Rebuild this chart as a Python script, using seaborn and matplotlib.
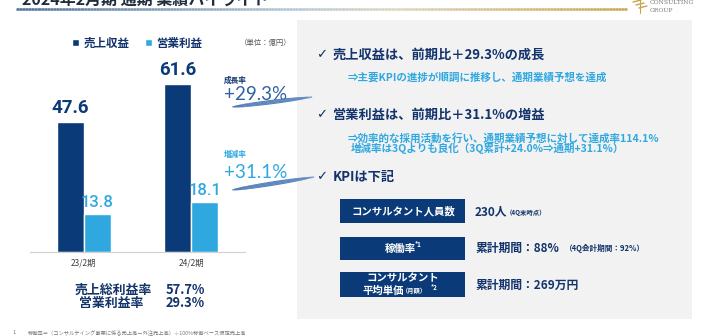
import numpy as np
import pandas as pd
import matplotlib
matplotlib.use("Agg")
import matplotlib.pyplot as plt
import seaborn as sns
from matplotlib.patches import Rectangle, Patch, Polygon
from matplotlib.lines import Line2D
from matplotlib.collections import LineCollection
from matplotlib.colors import LinearSegmentedColormap

# ---------------- data ----------------
periods = ["23/2期", "24/2期"]
series_names = ["売上収益", "営業利益"]
revenue = [47.6, 61.6]
op_profit = [13.8, 18.1]
growth_rev_label = "成長率"
growth_rev = "+29.3%"
growth_op_label = "増減率"
growth_op = "+31.1%"
margin_names = ["売上総利益率", "営業利益率"]
margin_values = ["57.7%", "29.3%"]
unit_text = "（単位：億円）"
title_text = "2024年2月期 通期 業績ハイライト"
bullets = [
    ("✓ ", "売上収益は、前期比＋29.3%の成長"),
    ("✓ ", "営業利益は、前期比＋31.1%の増益"),
    ("✓ ", "KPIは下記"),
]
sub_lines = [
    "⇒主要KPIの進捗が順調に推移し、通期業績予想を達成",
    "⇒効率的な採用活動を行い、通期業績予想に対して達成率114.1%",
    "増減率は3Qよりも良化（3Q累計+24.0%⇒通期+31.1%）",
]
kpi_names = ["コンサルタント人員数", "稼働率", "コンサルタント"]
kpi_values = ["230人", "累計期間：88%", "累計期間：269万円"]
kpi_notes = ["（4Q末時点）", "（4Q会計期間：92%）", ""]
footnote = "稼働率＝（コンサルティング事業に係る売上高－外注売上高）÷100%稼働ベース仮定売上高"

# ---------------- style ----------------
sns.set_theme(style="white")
plt.rcParams["font.family"] = ["Noto Sans CJK JP", "DejaVu Sans"]
NAVY = "#0b3a78"
LIGHT = "#2fa8e0"
TXT = "#12336b"
NUMFONT = ["Roboto", "DejaVu Sans"]
W, H = 702, 336

fig = plt.figure(figsize=(W / 100, H / 100), dpi=100)
fig.patch.set_facecolor("white")

def fx(x):
    return x / W

def fy(y):
    return 1 - y / H

def txt(x, y, s, **kw):
    kw.setdefault("transform", fig.transFigure)
    return fig.text(fx(x), fy(y), s, **kw)

# ---------------- right gray panel ----------------
fig.patches.append(Rectangle((fx(297), fy(319)), (692 - 297) / W, (319 - 20) / H,
                             transform=fig.transFigure, facecolor="#f2f2f2",
                             edgecolor="none", zorder=0))

# ---------------- bar chart ----------------
ax = fig.add_axes([fx(30), fy(251.5), (245 - 30) / W, 190.4 / H])
ax.patch.set_alpha(0)
df = pd.DataFrame({
    "period": periods * 2,
    "series": [series_names[0]] * 2 + [series_names[1]] * 2,
    "value": revenue + op_profit,
})
sns.barplot(data=df, x="period", y="value", hue="series", hue_order=series_names,
            palette=[NAVY, LIGHT], width=0.5, ax=ax, legend=False, saturation=1)
ax.set_xlim(-0.5, 1.5)
ax.set_ylim(0, 70)
ax.set_xlabel("")
ax.set_ylabel("")
ax.set_yticks([])
for s in ["left", "right", "top"]:
    ax.spines[s].set_visible(False)
ax.spines["bottom"].set_color("#d0d0d0")
ax.spines["bottom"].set_linewidth(0.8)
ax.tick_params(axis="x", length=0, pad=5, labelsize=6, labelcolor="#404040")
ax.bar_label(ax.containers[0], fmt="%.1f", padding=3.5, fontsize=13.5,
             fontweight="bold", color=NAVY, family=NUMFONT)
ax.bar_label(ax.containers[1], fmt="%.1f", padding=3, fontsize=12,
             fontweight="medium", color=LIGHT, family=NUMFONT)

# legend
handles = [Patch(facecolor=NAVY), Patch(facecolor=LIGHT)]
fig.legend(handles, series_names, loc="center left", bbox_to_anchor=(fx(62), fy(43)),
           bbox_transform=fig.transFigure, ncol=2, frameon=False, handlelength=0.6,
           handleheight=0.6, handletextpad=0.4, columnspacing=1.3, labelcolor=TXT,
           prop={"family": ["Noto Sans CJK JP", "DejaVu Sans"], "weight": "bold", "size": 8.3})
txt(240, 43, unit_text, fontsize=5.3, color="#555555", va="center")

# ---------------- title ----------------
txt(22, 5, title_text, fontsize=11.5, fontweight="bold", color="#1f2d3d", va="baseline")
cmap = LinearSegmentedColormap.from_list("tl", [(0, "#4b6f96"), (0.45, "#b3c6d6"),
                                               (0.62, "#dcd6bd"), (1, "#c8a54a")])
xs = np.linspace(16, 627, 200)
segs = [[(fx(xs[i]), fy(9)), (fx(xs[i + 1]), fy(9))] for i in range(len(xs) - 1)]
lc = LineCollection(segs, colors=[cmap(i / (len(segs) - 1)) for i in range(len(segs))],
                    linewidths=1.8, transform=fig.transFigure)
fig.add_artist(lc)

# logo
for dx, dy in [(0, 0), (3, 3), (6, 6)]:
    fig.add_artist(Line2D([fx(633 + dx), fx(641 + dx)], [fy(2 + dy), fy(0 + dy)],
                          color="#c8a54a", lw=1.0, transform=fig.transFigure))
fig.add_artist(Line2D([fx(640), fx(640)], [fy(0), fy(13)], color="#c8a54a", lw=0.8,
                      transform=fig.transFigure))
txt(650, 3, "CONSULTING", fontsize=4.3, color="#777777", va="center",
    family=["DejaVu Serif"])
txt(650, 11, "GROUP", fontsize=4.3, color="#777777", va="center", family=["DejaVu Serif"])

# ---------------- growth annotations ----------------
txt(224, 80, growth_rev_label, fontsize=5.5, fontweight="bold", color=TXT, va="center")
txt(224, 100, growth_rev, fontsize=13.5, color="#2f62a3", va="baseline",
    fontweight="normal", family=["Lato", "DejaVu Sans"])
txt(224, 155, growth_op_label, fontsize=5.5, fontweight="bold", color=LIGHT, va="center")
txt(224, 178, growth_op, fontsize=13.5, color=LIGHT, va="baseline",
    fontweight="normal", family=["Lato", "DejaVu Sans"])

def brush(x0, y0, x1, y1, color):
    # tapered brush stroke shape
    d = np.array([x1 - x0, y1 - y0], dtype=float)
    L = np.hypot(*d)
    u = d / L
    n = np.array([-u[1], u[0]])
    t = np.linspace(0, 1, 30)
    width = 1.9 * np.sin(np.pi * np.clip(t * 1.05, 0, 1)) ** 0.5 + 0.3
    base = np.array([x0, y0]) + np.outer(t * L, u)
    top = base + np.outer(width, n)
    bot = base - np.outer(width, n)
    pts = np.vstack([top, bot[::-1]])
    fig.add_artist(Polygon([(fx(px), fy(py)) for px, py in pts], closed=True,
                           facecolor=color, edgecolor="none", alpha=0.9,
                           transform=fig.transFigure, zorder=5))
    for off in [-1.4, 0.0, 1.4]:
        fig.add_artist(Line2D([fx(x0 + 10), fx(x1)],
                              [fy(y0 + (y1 - y0) * 10 / (x1 - x0) + off), fy(y1 + off * 0.5)],
                              color="#7ea3d0", lw=0.35, alpha=0.8,
                              transform=fig.transFigure, zorder=6))

brush(232, 107, 312, 97, "#3f6fae")
brush(232, 190, 314, 177, "#3f6fae")

# ---------------- right panel text ----------------
for (chk, s), y in zip(bullets, [55, 115, 177]):
    txt(317, y, chk, fontsize=9.5, color=TXT, va="center", family=["DejaVu Sans"],
        fontweight="bold")
    txt(333, y, s, fontsize=9.5, fontweight="bold", color=TXT, va="center")
txt(348, 78, sub_lines[0], fontsize=7.6, fontweight="bold", color=LIGHT, va="center")
txt(348, 138, sub_lines[1], fontsize=7.6, fontweight="bold", color=LIGHT, va="center")
txt(351, 148, sub_lines[2], fontsize=7.6, fontweight="bold", color=LIGHT, va="center")

# KPI boxes
boxes = [(199, 223), (237, 260), (272, 297)]
for (y0, y1) in boxes:
    fig.patches.append(Rectangle((fx(340), fy(y1)), (465 - 340) / W, (y1 - y0) / H,
                                 transform=fig.transFigure, facecolor=NAVY,
                                 edgecolor="none", zorder=1))
txt(403, 211, kpi_names[0], fontsize=7.5, fontweight="bold", color="white",
    ha="center", va="center")
txt(400, 248.5, kpi_names[1], fontsize=7.5, fontweight="bold", color="white",
    ha="center", va="center")
txt(414.5, 244.5, "*1", fontsize=4.5, fontweight="bold", color="white", ha="left", va="center")
txt(403, 278, kpi_names[2], fontsize=7.5, fontweight="bold", color="white",
    ha="center", va="center")
txt(383, 290.5, "平均単価", fontsize=7.5, fontweight="bold", color="white",
    ha="center", va="center")
txt(402, 291, "（月額）", fontsize=4.5, fontweight="bold", color="white",
    ha="left", va="center")
txt(431, 288, "*2", fontsize=4.5, fontweight="bold", color="white", ha="left", va="center")

txt(475, 212, kpi_values[0], fontsize=8.5, fontweight="bold", color=TXT, va="center")
txt(506, 212, kpi_notes[0], fontsize=4.6, fontweight="bold", color=TXT, va="center")
txt(475, 248.5, kpi_values[1], fontsize=8.5, fontweight="bold", color=TXT, va="center")
txt(565, 248.5, kpi_notes[1], fontsize=5.5, fontweight="bold", color=TXT, va="center")
txt(475, 285.5, kpi_values[2], fontsize=8.5, fontweight="bold", color=TXT, va="center")

# ---------------- margins ----------------
txt(152, 290, margin_names[0], fontsize=9.3, fontweight="bold", color=TXT,
    ha="right", va="center")
txt(143, 303, margin_names[1], fontsize=9.3, fontweight="bold", color=TXT,
    ha="right", va="center")
txt(166, 290, margin_values[0], fontsize=9.3, fontweight="bold", color=TXT, va="center")
txt(166, 303, margin_values[1], fontsize=9.3, fontweight="bold", color=TXT, va="center")

# ---------------- footnote ----------------
txt(12, 333, "1.", fontsize=3.8, color="#777777", va="center")
txt(28, 333, footnote, fontsize=3.8, color="#777777", va="center")

fig.savefig("out.png", dpi=100, facecolor="white")
